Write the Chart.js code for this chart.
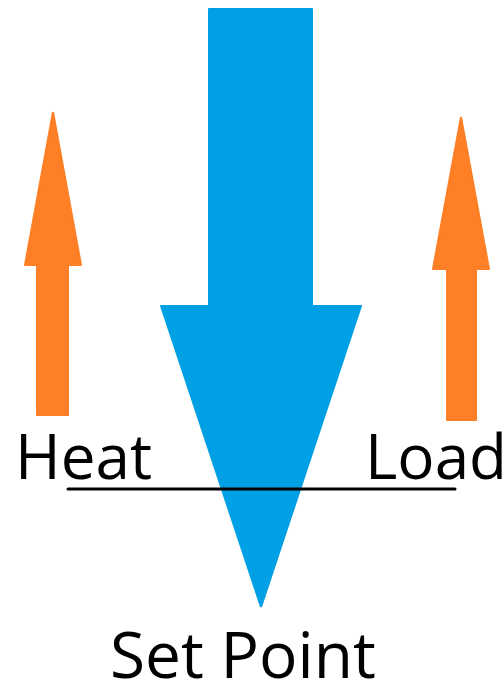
<!DOCTYPE html>
<html>
<head>
<meta charset="utf-8">
<script src="https://cdn.jsdelivr.net/npm/chart.js@4.4.1/dist/chart.umd.min.js"></script>
<style>
  html, body { margin: 0; padding: 0; background: #fff; }
  #wrap { width: 504px; height: 685px; position: relative; }
</style>
</head>
<body>
<div id="wrap"><canvas id="diagram"></canvas></div>
<script>
// arrow parameters in picture units: [tipX, tipY, headBaseY, headLeft, headRight, shaftLeft, shaftRight, tailY]
const blueArrow = [261, 607, 306, 161, 361, 209, 312, 9];
const heatArrow = [53, 112, 265, 25, 81, 37, 68, 415];
const loadArrow = [461, 117, 269, 433, 489, 447, 476, 420];

const baseLineX = [68, 455];
const baseLineY = 489;

const labelTexts = ["Heat", "Load", "Set Point"];
const labelX = [15, 365, 110];
const labelY = [479, 479, 678];
const labelSize = [62, 62, 64];

const BLUE = "#00A0E4";
const ORANGE = "#FE7F25";

function arrowOutline(a) {
  const [tx, ty, hy, hl, hr, sl, sr, tail] = a;
  return [
    { x: tx, y: ty },
    { x: hr, y: hy },
    { x: sr, y: hy },
    { x: sr, y: tail },
    { x: sl, y: tail },
    { x: sl, y: hy },
    { x: hl, y: hy },
    { x: tx, y: ty },
  ];
}

function shapeDataset(points, color) {
  return {
    data: points,
    showLine: true,
    fill: "shape",
    backgroundColor: color,
    borderColor: color,
    borderWidth: 2,
    borderJoinStyle: "round",
    pointRadius: 0,
    tension: 0,
    clip: false,
    order: 2,
  };
}

const labelPlugin = {
  id: "labels",
  afterDatasetsDraw(chart) {
    const { ctx, scales } = chart;
    ctx.save();
    ctx.fillStyle = "#000";
    ctx.textBaseline = "alphabetic";
    ctx.textAlign = "left";
    labelTexts.forEach((t, i) => {
      ctx.font = `${labelSize[i]}px 'Open Sans', sans-serif`;
      ctx.fillText(t, scales.x.getPixelForValue(labelX[i]), scales.y.getPixelForValue(labelY[i]));
    });
    ctx.restore();
  },
};

new Chart(document.getElementById("diagram"), {
  type: "scatter",
  data: {
    datasets: [
      shapeDataset(arrowOutline(blueArrow), BLUE),
      shapeDataset(arrowOutline(heatArrow), ORANGE),
      shapeDataset(arrowOutline(loadArrow), ORANGE),
      {
        data: baseLineX.map((x) => ({ x, y: baseLineY })),
        showLine: true,
        borderColor: "#000",
        borderWidth: 3,
        borderCapStyle: "round",
        pointRadius: 0,
        clip: false,
        order: 0,
      },
    ],
  },
  options: {
    responsive: true,
    maintainAspectRatio: false,
    animation: false,
    layout: { padding: 0 },
    scales: {
      x: { type: "linear", min: 0, max: 504, display: false },
      y: { type: "linear", min: 0, max: 685, reverse: true, display: false },
    },
    plugins: {
      legend: { display: false },
      tooltip: { enabled: false },
    },
  },
  plugins: [labelPlugin],
});
</script>
</body>
</html>
